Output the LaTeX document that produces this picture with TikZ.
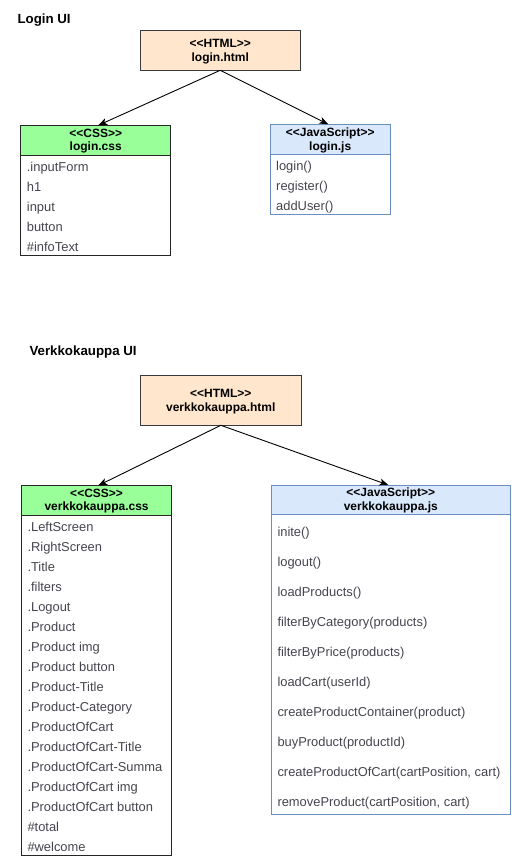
\documentclass[tikz,border=0pt]{standalone}
\usepackage{fontspec}
\setmainfont{Liberation Sans}
\usetikzlibrary{arrows.meta}

\definecolor{htmlfill}{HTML}{FFE6CC}
\definecolor{htmlline}{HTML}{36393D}
\definecolor{cssfill}{HTML}{99FF99}
\definecolor{cssline}{HTML}{262626}
\definecolor{jsfill}{HTML}{DAE8FC}
\definecolor{jsline}{HTML}{6C8EBF}
\definecolor{itemtext}{HTML}{45454F}

% stereotype label, kept apart so << and >> stay plain characters
\newcommand\stereo[1]{<{}<#1>{}>}

\tikzset{
  box/.style={draw, line width=1pt, inner sep=0pt, outer sep=0pt, anchor=north west},
  htmlbox/.style={box, draw=htmlline, fill=htmlfill},
  csshead/.style={box, draw=cssline, fill=cssfill},
  cssbody/.style={box, draw=cssline, fill=white},
  jshead/.style={box, draw=jsline, fill=jsfill},
  jsbody/.style={box, draw=jsline, fill=white},
  headtext/.style={anchor=base, inner sep=0pt, font=\fontsize{12}{14}\selectfont\bfseries, text=black},
  titletext/.style={anchor=base west, inner sep=0pt, font=\fontsize{13.3}{16}\selectfont\bfseries, text=black},
  itemtext/.style={anchor=base west, inner sep=0pt, font=\fontsize{12.9}{15}\selectfont, text=itemtext},
  link/.style={draw=black, line width=0.9pt, -{Stealth[length=9pt, width=7pt, inset=2.5pt]}},
}

\begin{document}
\begin{tikzpicture}[x=1pt, y=-1pt]
\useasboundingbox[fill=white] (0,0) rectangle (511,856);

% ---------------- Login UI ----------------
\node[titletext] (ltitle) at (17.3,23.3) {Login UI};

\node[htmlbox, minimum width=160.5pt, minimum height=40pt] (lhtml) at (140,30.3) {};
\node[headtext] (lhtmlA) at (220.3,47.8) {\stereo{HTML}};
\node[headtext] (lhtmlB) at (220.3,62) {login.html};

\node[csshead, minimum width=150pt, minimum height=30pt] (lcssh) at (20.7,125.3) {};
\node[cssbody, minimum width=150pt, minimum height=100.4pt] (lcssb) at (20.7,155.3) {};
\node[headtext] (lcssA) at (95.7,137) {\stereo{CSS}};
\node[headtext] (lcssB) at (95.7,150.8) {login.css};
\foreach \t [count=\i from 0] in {.inputForm, h1, input, button, \#infoText}
  \node[itemtext] (lcss-\i) at (26.7,171.5+20*\i) {\t};

\node[jshead, minimum width=120.3pt, minimum height=30pt] (ljsh) at (270,124.3) {};
\node[jsbody, minimum width=120.3pt, minimum height=59.7pt] (ljsb) at (270,154.3) {};
\node[headtext] (ljsA) at (330.2,136) {\stereo{JavaScript}};
\node[headtext] (ljsB) at (330.2,150) {login.js};
\foreach \t [count=\i from 0] in {login(), register(), addUser()}
  \node[itemtext] (ljs-\i) at (276,170.4+20*\i) {\t};

\draw[link] (lhtml.south) -- ([xshift=2.6pt]lcssh.north);
\draw[link] (lhtml.south) -- ([xshift=-1.9pt]ljsh.north);

% ---------------- Verkkokauppa UI ----------------
\node[titletext] (vtitle) at (29.3,355.7) {Verkkokauppa UI};

\node[htmlbox, minimum width=161.7pt, minimum height=50.3pt] (vhtml) at (140,375) {};
\node[headtext] (vhtmlA) at (220.8,397.7) {\stereo{HTML}};
\node[headtext] (vhtmlB) at (220.8,411.9) {verkkokauppa.html};

\node[csshead, minimum width=150.2pt, minimum height=29.5pt] (vcssh) at (21.5,485.5) {};
\node[cssbody, minimum width=150.2pt, minimum height=340.7pt] (vcssb) at (21.5,515) {};
\node[headtext] (vcssA) at (96.6,497.2) {\stereo{CSS}};
\node[headtext] (vcssB) at (96.6,510.9) {verkkokauppa.css};
\foreach \t [count=\i from 0] in {.LeftScreen, .RightScreen, .Title, .filters, .Logout,
    .Product, .Product img, .Product button, .Product-Title, .Product-Category,
    .ProductOfCart, .ProductOfCart-Title, .ProductOfCart-Summa, .ProductOfCart img,
    .ProductOfCart button, \#total, \#welcome}
  \node[itemtext] (vcss-\i) at (27.3,531.4+20*\i) {\t};

\node[jshead, minimum width=238.3pt, minimum height=29pt] (vjsh) at (271.7,485) {};
\node[jsbody, minimum width=238.3pt, minimum height=300pt] (vjsb) at (271.7,514) {};
\node[headtext] (vjsA) at (390.8,496.7) {\stereo{JavaScript}};
\node[headtext] (vjsB) at (390.8,510.5) {verkkokauppa.js};
\foreach \t [count=\i from 0] in {inite(), logout(), loadProducts(),
    filterByCategory(products), filterByPrice(products), loadCart(userId),
    createProductContainer(product), buyProduct(productId),
    {createProductOfCart(cartPosition, cart)}, {removeProduct(cartPosition, cart)}}
  \node[itemtext] (vjs-\i) at (277.3,536.5+30*\i) {\t};

\draw[link] (vhtml.south) -- ([xshift=1.7pt]vcssh.north);
\draw[link] (vhtml.south) -- ([xshift=-2.5pt]vjsh.north);
\end{tikzpicture}
\end{document}
